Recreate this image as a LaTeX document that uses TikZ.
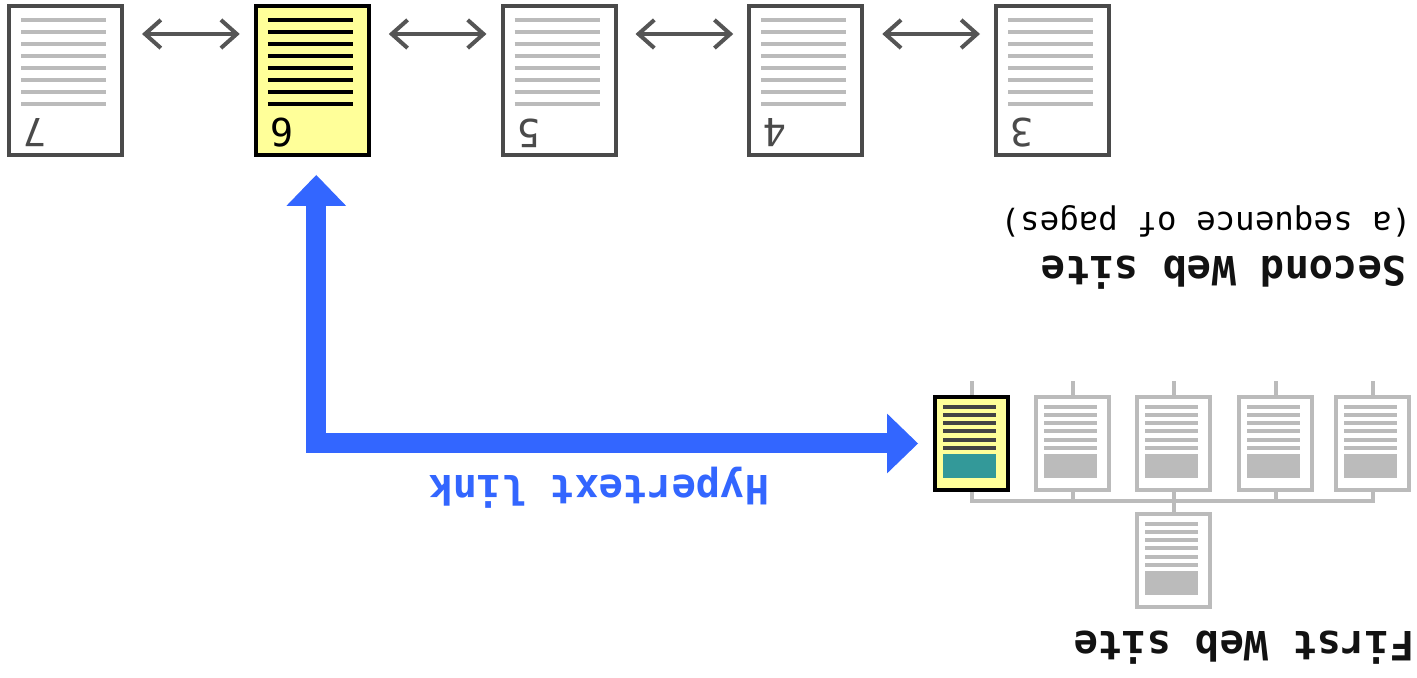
\documentclass[tikz,border=0pt]{standalone}
\usepackage{fontspec}
\setmainfont{DejaVu Sans Mono}
\usetikzlibrary{arrows.meta}

\definecolor{pagegray}{HTML}{4A4A4A}
\definecolor{linegray}{HTML}{BBBBBB}
\definecolor{arrowgray}{HTML}{555555}
\definecolor{hiyellow}{HTML}{FFFF99}
\definecolor{blockteal}{HTML}{339999}
\definecolor{linkblue}{HTML}{3366FF}
\definecolor{darkline}{HTML}{444444}
\newcommand{\pxu}{0.02cm}

\begin{document}
\begin{tikzpicture}[x=0.02cm,y=-0.02cm]
        \tikzstyle{every node}+=[inner sep=0pt]
        \tikzstyle{bigpage}=[draw=pagegray,fill=white,line width=4*\pxu,minimum width=113*\pxu,minimum height=149*\pxu]
        \tikzstyle{hilite}=[draw=black,fill=hiyellow]
        \tikzstyle{smallpage}=[draw=linegray,fill=white,line width=4*\pxu,minimum width=73*\pxu,minimum height=93*\pxu]
        \tikzstyle{bigline}=[draw=linegray,line width=4*\pxu]
        \tikzstyle{smallline}=[draw=linegray,line width=3.5*\pxu]
        \tikzstyle{digit}=[rotate=180,font=\fontsize{22}{24}\selectfont,text=pagegray]
        \tikzstyle{seq}=[draw=arrowgray,line width=4*\pxu,{Straight Barb[length=9pt,width=16pt]}-{Straight Barb[length=9pt,width=16pt]}]
        \tikzstyle{hyper}=[draw=linkblue,line width=20*\pxu,{Triangle[length=17.6pt,width=34pt,line width=0pt]}-{Triangle[length=17.6pt,width=34pt,line width=0pt]}]
        \tikzstyle{tree}=[draw=linegray,line width=4*\pxu]
        \tikzstyle{title}=[rotate=180,font=\bfseries\fontsize{23}{26}\selectfont,text=black!93]
        \useasboundingbox (0,0) rectangle (1417,678);
        % second web site: a row of pages
        \node [bigpage] (p7) at (65.5,80.5) {};
        \node [bigpage,hilite] (p6) at (312.25,80.5) {};
        \node [bigpage] (p5) at (559,80.5) {};
        \node [bigpage] (p4) at (805.75,80.5) {};
        \node [bigpage] (p3) at (1052.5,80.5) {};
        \foreach \p in {p7,p5,p4,p3}
          \foreach \i in {0,...,7}
            \draw [bigline] ([shift={(14,16+12*\i)}]\p.north west) -- ([shift={(99,16+12*\i)}]\p.north west);
        \foreach \i in {0,...,7}
          \draw [bigline,draw=black] ([shift={(14,16+12*\i)}]p6.north west) -- ([shift={(99,16+12*\i)}]p6.north west);
        \node [digit] (n7) at ([shift={(28,-24)}]p7.south west) {7};
        \node [digit,text=black] (n6) at ([shift={(28,-24)}]p6.south west) {6};
        \node [digit] (n5) at ([shift={(28,-24)}]p5.south west) {5};
        \node [digit] (n4) at ([shift={(28,-24)}]p4.south west) {4};
        \node [digit] (n3) at ([shift={(28,-24)}]p3.south west) {3};
        \coordinate (row) at (0,34);
        \foreach \a/\b in {p7/p6,p6/p5,p5/p4,p4/p3}
          \draw [seq,shorten <=18*\pxu,shorten >=14*\pxu] (\a.east |- row) -- (\b.west |- row);
        \node [title] (second) at (1224,273) {Second Web site};
        \node [rotate=180,font=\fontsize{18.5}{21}\selectfont] (seqnote) at (1206,221) {(a sequence of pages)};
        % first web site: a tree of pages
        \node [smallpage,hilite] (s1) at (971.5,443.5) {};
        \node [smallpage] (s2) at (1072.5,443.5) {};
        \node [smallpage] (s3) at (1173.5,443.5) {};
        \node [smallpage] (s4) at (1275.5,443.5) {};
        \node [smallpage] (s5) at (1372.5,443.5) {};
        \node [smallpage] (s0) at (1173.5,560.5) {};
        \foreach \p in {s2,s3,s4,s5,s0} {
          \foreach \y in {12,20,28,36,45,53}
            \draw [smallline] ([shift={(10,\y)}]\p.north west) -- ([shift={(63,\y)}]\p.north west);
          \fill [linegray] ([shift={(10,59)}]\p.north west) rectangle ([shift={(63,83)}]\p.north west);
        }
        \foreach \y in {12,20,28,36,45,53}
          \draw [smallline,draw=darkline] ([shift={(10,\y)}]s1.north west) -- ([shift={(63,\y)}]s1.north west);
        \fill [blockteal] ([shift={(10,59)}]s1.north west) rectangle ([shift={(63,83)}]s1.north west);
        \coordinate (bus) at (0,501);
        \foreach \p in {s1,s2,s3,s4,s5}
          \draw [tree] (\p.north) -- ++(0,-14);
        \draw [tree] (s1.south) |- (s5.south |- bus) -- (s5.south);
        \foreach \p in {s2,s3,s4}
          \draw [tree] (\p.south) -- (\p.south |- bus);
        \draw [tree] (s3.south |- bus) -- (s0.north);
        \node [title] (first) at (1244,648) {First Web site};
        % the hypertext link
        \draw [hyper,shorten <=18*\pxu,shorten >=15*\pxu] ([xshift=4*\pxu]p6.south) |- (s1.west);
        \node [title,text=linkblue] (linklabel) at (599,488) {Hypertext link};
\end{tikzpicture}
\end{document}
